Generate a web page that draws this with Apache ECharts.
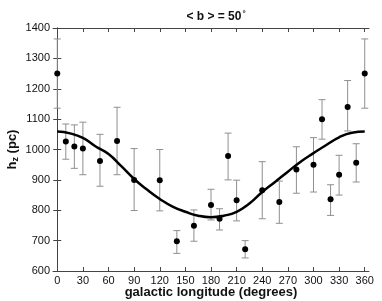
<!DOCTYPE html>
<html>
<head>
<meta charset="utf-8">
<script src="https://cdn.jsdelivr.net/npm/echarts@6/dist/echarts.min.js"></script>
<style>html,body{margin:0;padding:0;background:#fff;}#c{width:382px;height:301px;}</style>
</head>
<body>
<div id="c"></div>
<script>
var lon = [0,10,20,30,50,70,90,120,140,160,180,190,200,210,220,240,260,280,300,310,320,330,340,350,360];
var hz = [1250,1026,1010,1003,962,1028,900,899,698,749,817,772,979,833,672,866,827,934,950,1100,836,917,1140,956,1250];
var errLow = [1136,968,938,917,879,917,799,798,658,698,768,735,900,765,643,772,757,856,860,1034,783,850,1061,893,1136];
var errHigh = [1364,1084,1081,1090,1050,1139,1003,1000,733,801,869,805,1054,899,700,960,896,1009,1039,1164,884,981,1227,1019,1364];
var fitLon = [0,15,30,45,60,75,90,105,120,135,150,165,180,195,210,225,240,255,270,285,300,315,330,345,360];
var fitHz = [1059,1053,1038,1010,985,945,903,868,837,812,795,782,777,782,795,822,860,893,927,960,988,1015,1040,1055,1059];
var xTicks = [0,30,60,90,120,150,180,210,240,270,300,330,360];
var yTicks = [600,700,800,900,1000,1100,1200,1300,1400];

var pts = lon.map(function(v,i){return [v, hz[i]];});
var errs = lon.map(function(v,i){return [v, errLow[i], errHigh[i]];});
var fit = fitLon.map(function(v,i){return [v, fitHz[i]];});

var axisCol = '#444';
var chart = echarts.init(document.getElementById('c'));
chart.setOption({
  animation: false,
  backgroundColor: '#fff',
  textStyle: {fontFamily: 'Liberation Sans, Arial, sans-serif'},
  title: {
    text: '{a|< b > = 50}{s|°}',
    left: 211, top: 5, textAlign: 'center',
    textStyle: {rich: {
      a: {fontSize: 12, fontWeight: 'bold', color: '#111', fontFamily: 'Liberation Sans'},
      s: {fontSize: 8, color: '#111', verticalAlign: 'top', fontFamily: 'Liberation Sans', padding: [0,0,6,1]}
    }}
  },
  grid: {left: 53, right: 13, top: 28, bottom: 30, containLabel: false, outerBoundsMode: 'none'},
  xAxis: [{
    type: 'value', min: -5, max: 365, position: 'bottom',
    axisLine: {show: true, lineStyle: {color: axisCol, width: 1}},
    axisTick: {show: true, inside: true, length: 4, customValues: xTicks, lineStyle: {color: axisCol}},
    axisLabel: {customValues: xTicks, fontSize: 11, color: '#111', margin: 4, fontFamily: 'Liberation Sans'},
    splitLine: {show: false},
    name: 'galactic longitude (degrees)', nameLocation: 'middle', nameGap: 15, nameMoveOverlap: false,
    nameTextStyle: {fontSize: 13, fontWeight: 'bold', color: '#111', fontFamily: 'Liberation Sans'}
  }, {
    type: 'value', min: -5, max: 365, position: 'top',
    axisLine: {show: true, lineStyle: {color: axisCol, width: 1}},
    axisTick: {show: true, inside: true, length: 4, customValues: xTicks, lineStyle: {color: axisCol}},
    axisLabel: {show: false},
    splitLine: {show: false}
  }],
  yAxis: [{
    type: 'value', min: 600, max: 1400, interval: 100, position: 'left',
    axisLine: {show: true, lineStyle: {color: axisCol, width: 1}},
    axisTick: {show: true, inside: true, length: 4, lineStyle: {color: axisCol}},
    axisLabel: {fontSize: 11, color: '#111', margin: 3, fontFamily: 'Liberation Sans',
      formatter: function(v){ return String(v); }},
    splitLine: {show: false},
    name: '{a|h}{b|z}{a| (pc)}', nameLocation: 'middle', nameGap: 33, nameRotate: 90, nameMoveOverlap: false,
    nameTextStyle: {rich: {
      a: {fontSize: 13, fontWeight: 'bold', color: '#111', fontFamily: 'Liberation Sans', lineHeight: 16},
      b: {fontSize: 9, fontWeight: 'bold', color: '#111', fontFamily: 'Liberation Sans', verticalAlign: 'bottom', lineHeight: 16, padding: [8,0,0,0]}
    }}
  }, {
    type: 'value', min: 600, max: 1400, interval: 100, position: 'right',
    axisLine: {show: true, lineStyle: {color: axisCol, width: 1}},
    axisTick: {show: true, inside: true, length: 4, lineStyle: {color: axisCol}},
    axisLabel: {show: false},
    splitLine: {show: false}
  }],
  series: [{
    type: 'custom',
    data: errs,
    z: 1,
    renderItem: function(params, api) {
      var x = api.value(0);
      var lo = api.coord([x, api.value(1)]);
      var hi = api.coord([x, api.value(2)]);
      var w = 3.5;
      var st = {stroke: '#8f8f8f', lineWidth: 1};
      return {type: 'group', children: [
        {type: 'line', shape: {x1: lo[0], y1: lo[1], x2: hi[0], y2: hi[1]}, style: st},
        {type: 'line', shape: {x1: lo[0]-w, y1: lo[1], x2: lo[0]+w, y2: lo[1]}, style: st},
        {type: 'line', shape: {x1: hi[0]-w, y1: hi[1], x2: hi[0]+w, y2: hi[1]}, style: st}
      ]};
    }
  }, {
    type: 'line',
    data: fit,
    smooth: true,
    symbol: 'none',
    z: 3,
    lineStyle: {color: '#000', width: 2.5}
  }, {
    type: 'scatter',
    data: pts,
    symbol: 'circle',
    symbolSize: 6,
    z: 4,
    itemStyle: {color: '#000', opacity: 1}
  }]
});
</script>
</body>
</html>
